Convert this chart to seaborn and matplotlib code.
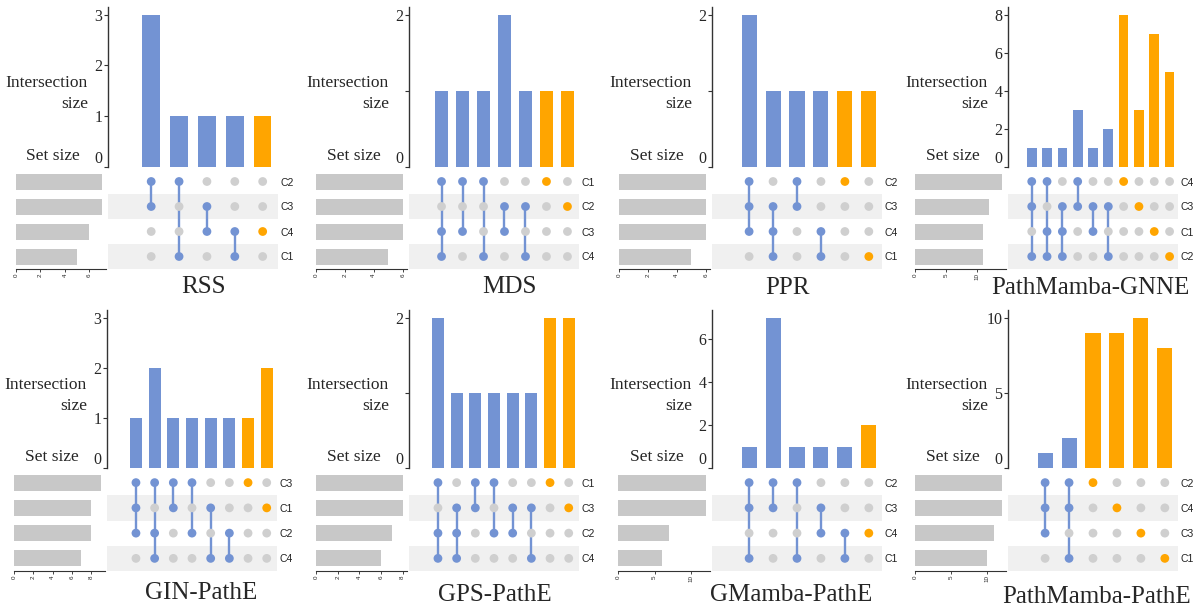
import matplotlib
matplotlib.use('Agg')
import matplotlib.pyplot as plt
import seaborn as sns
import pandas as pd

sns.set_style('white')
plt.rcParams['font.family'] = ['Liberation Sans', 'DejaVu Sans']

# ─────────────────────────────────────────────────────────────
# DATA  (sets listed top → bottom, intersections left → right)
# ─────────────────────────────────────────────────────────────
rss_sets = ['C2', 'C3', 'C4', 'C1']
rss_set_sizes = [7, 7, 6, 5]
rss_combos = ['C2&C3', 'C2&C1', 'C3&C4', 'C4&C1', 'C4']
rss_counts = [3, 1, 1, 1, 1]

mds_sets = ['C1', 'C2', 'C3', 'C4']
mds_set_sizes = [6, 6, 6, 5]
mds_combos = ['C1&C3&C4', 'C1&C3', 'C1&C4', 'C2&C3', 'C2&C4', 'C1', 'C2']
mds_counts = [1, 1, 1, 2, 1, 1, 1]

ppr_sets = ['C2', 'C3', 'C4', 'C1']
ppr_set_sizes = [6, 6, 6, 5]
ppr_combos = ['C2&C3&C4', 'C3&C4&C1', 'C2&C3', 'C4&C1', 'C2', 'C1']
ppr_counts = [2, 1, 1, 1, 1, 1]

gnne_sets = ['C4', 'C3', 'C1', 'C2']
gnne_set_sizes = [14, 12, 11, 11]
gnne_combos = ['C4&C3&C2', 'C4&C1&C2', 'C3&C1&C2', 'C4&C3', 'C3&C1',
               'C3&C2', 'C4', 'C3', 'C1', 'C2']
gnne_counts = [1, 1, 1, 3, 1, 2, 8, 3, 7, 5]

gin_sets = ['C3', 'C1', 'C2', 'C4']
gin_set_sizes = [9, 8, 8, 7]
gin_combos = ['C3&C1&C2', 'C3&C2&C4', 'C3&C1', 'C3&C2', 'C1&C4', 'C2&C4', 'C3', 'C1']
gin_counts = [1, 2, 1, 1, 1, 1, 1, 2]

gps_sets = ['C1', 'C3', 'C2', 'C4']
gps_set_sizes = [8, 8, 7, 6]
gps_combos = ['C1&C2&C4', 'C3&C2&C4', 'C1&C3', 'C1&C2', 'C3&C2', 'C3&C4', 'C1', 'C3']
gps_counts = [2, 1, 1, 1, 1, 1, 2, 2]

gmamba_sets = ['C2', 'C3', 'C4', 'C1']
gmamba_set_sizes = [12, 12, 7, 6]
gmamba_combos = ['C2&C3&C1', 'C2&C3', 'C2&C1', 'C3&C4', 'C4&C1', 'C4']
gmamba_counts = [1, 7, 1, 1, 1, 2]

pmpe_sets = ['C2', 'C4', 'C3', 'C1']
pmpe_set_sizes = [12, 12, 11, 10]
pmpe_combos = ['C2&C4&C3', 'C2&C4&C1', 'C2', 'C4', 'C3', 'C1']
pmpe_counts = [1, 2, 9, 9, 10, 8]

titles = ['RSS', 'MDS', 'PPR', 'PathMamba-GNNE',
          'GIN-PathE', 'GPS-PathE', 'GMamba-PathE', 'PathMamba-PathE']

# axis tops and tick values for the intersection-size axes
int_ymax = [3, 2, 2, 8, 3, 2, 7, 10]
int_ticks = [[0, 1, 2, 3], [0, 1, 2], [0, 1, 2], [0, 2, 4, 6, 8],
             [0, 1, 2, 3], [0, 1, 2], [0, 2, 4, 6], [0, 5, 10]]
int_hidden = [[], [1], [1], [], [], [1], [], []]   # ticks drawn without a label
set_ticks = [[0, 2, 4, 6], [0, 2, 4, 6], [0, 2, 4, 6], [0, 5, 10],
             [0, 2, 4, 6, 8], [0, 2, 4, 6, 8], [0, 5, 10], [0, 5, 10]]

panels = [
    (rss_sets, rss_set_sizes, rss_combos, rss_counts),
    (mds_sets, mds_set_sizes, mds_combos, mds_counts),
    (ppr_sets, ppr_set_sizes, ppr_combos, ppr_counts),
    (gnne_sets, gnne_set_sizes, gnne_combos, gnne_counts),
    (gin_sets, gin_set_sizes, gin_combos, gin_counts),
    (gps_sets, gps_set_sizes, gps_combos, gps_counts),
    (gmamba_sets, gmamba_set_sizes, gmamba_combos, gmamba_counts),
    (pmpe_sets, pmpe_set_sizes, pmpe_combos, pmpe_counts),
]

# ─────────────────────────────────────────────────────────────
# STYLE / LAYOUT (pixel positions on a 1200x611 canvas)
# ─────────────────────────────────────────────────────────────
BLUE = '#7393D3'
ORANGE = '#FFA500'
DOT_OFF = '#CFCFCF'
SET_GREY = '#C8C8C8'
BAND = '#F0F0F0'
SERIF = ['Liberation Serif', 'DejaVu Serif']

W, H = 1200, 611
SPINE_X = [108, 409, 712, 1008, 107, 409, 712, 1008]
SET_LEFT = [16, 316, 619, 915, 14, 316, 618, 915]
BAR_TOP = [7, 310]
BAR_BOT = [167, 468]
MAT_BOT = [269, 571]
MAT_W = 170
TITLE_XY = [(203, 287), (509, 287), (787, 288), (1090, 288),
            (201, 593), (495, 595), (791, 595), (1097, 597)]


def box(left, top, width, height):
    return [left / W, 1 - (top + height) / H, width / W, height / H]


def ftext(x, y, s, **kw):
    fig.text(x / W, 1 - y / H, s, **kw)


fig = plt.figure(figsize=(12, 6.11), dpi=100)

for i, (sets, sizes, combos, counts) in enumerate(panels):
    r = i // 4
    sx = SPINE_X[i]
    n = len(combos)
    xlim = (-1.55, n - 0.45)

    # --- intersection size bars ---
    ax_bar = fig.add_axes(box(sx, BAR_TOP[r], MAT_W, BAR_BOT[r] - BAR_TOP[r]))
    bar_df = pd.DataFrame({'combo': combos, 'count': counts})
    bar_df['kind'] = ['multi' if '&' in k else 'single' for k in combos]
    sns.barplot(data=bar_df, x='combo', y='count', hue='kind', order=combos,
                palette={'multi': BLUE, 'single': ORANGE}, dodge=False,
                width=0.63, saturation=1, linewidth=0, legend=False, ax=ax_bar)
    ax_bar.set_xlim(xlim)
    ax_bar.set_ylim(0, int_ymax[i] * 1.05)
    for side in ['top', 'right', 'bottom']:
        ax_bar.spines[side].set_visible(False)
    ax_bar.spines['left'].set_color('#333333')
    ax_bar.spines['left'].set_linewidth(1.0)
    ax_bar.set_xticks([])
    ax_bar.set_xlabel('')
    ax_bar.set_ylabel('')
    ax_bar.set_yticks(int_ticks[i])
    ax_bar.set_yticklabels(['' if t in int_hidden[i] else str(t) for t in int_ticks[i]],
                           family=SERIF, fontsize=11.5)
    ax_bar.tick_params(axis='y', left=True, length=3, width=0.8, color='#333333', pad=1)
    ax_bar.get_yticklabels()[0].set_verticalalignment('bottom')

    # --- membership matrix ---
    mat_top = BAR_BOT[r] + 2
    ax_m = fig.add_axes(box(sx, mat_top, MAT_W, MAT_BOT[r] - mat_top))
    for row in (1, 3):
        ax_m.axhspan(row - 0.5, row + 0.5, color=BAND, lw=0, zorder=0)
    rows = []
    for j, combo in enumerate(combos):
        members = combo.split('&')
        for k, s in enumerate(sets):
            if s not in members:
                state = 'off'
            elif len(members) == 1:
                state = 'single'
            else:
                state = 'on'
            rows.append((j, k, state))
        if len(members) > 1:
            idx = [sets.index(m) for m in members]
            ax_m.vlines(j, min(idx), max(idx), color=BLUE, lw=1.7, zorder=2)
    grid = pd.DataFrame(rows, columns=['col', 'row', 'state'])
    sns.scatterplot(data=grid, x='col', y='row', hue='state',
                    palette={'off': DOT_OFF, 'on': BLUE, 'single': ORANGE},
                    s=40, linewidth=0, legend=False, ax=ax_m, zorder=3)
    ax_m.set_xlim(xlim)
    ax_m.set_ylim(3.5, -0.5)
    for side in ax_m.spines:
        ax_m.spines[side].set_visible(False)
    ax_m.set_xticks([])
    ax_m.set_xlabel('')
    ax_m.set_ylabel('')
    ax_m.yaxis.tick_right()
    ax_m.set_yticks(range(len(sets)))
    ax_m.set_yticklabels(sets, fontsize=7.5, color='#222222')
    ax_m.tick_params(axis='y', length=0, pad=2)

    # --- set size bars ---
    ax_s = fig.add_axes(box(SET_LEFT[i], mat_top, sx - 2 - SET_LEFT[i], MAT_BOT[r] - mat_top))
    set_df = pd.DataFrame({'set': sets, 'size': sizes})
    sns.barplot(data=set_df, x='size', y='set', order=sets, orient='h',
                color=SET_GREY, saturation=1, width=0.64, linewidth=0, ax=ax_s)
    ax_s.set_xlim(0, max(sizes) * 1.05)
    ax_s.set_ylim(3.5, -0.5)
    for side in ['top', 'right', 'left']:
        ax_s.spines[side].set_visible(False)
    ax_s.spines['bottom'].set_color('#333333')
    ax_s.spines['bottom'].set_linewidth(0.8)
    ax_s.set_yticks([])
    ax_s.set_xlabel('')
    ax_s.set_ylabel('')
    ax_s.set_xticks(set_ticks[i])
    ax_s.set_xticklabels([str(t) for t in set_ticks[i]], rotation=90, fontsize=4.5)
    ax_s.tick_params(axis='x', bottom=True, length=2, width=0.6, pad=1)

    # --- texts ---
    mid = BAR_TOP[r] + 0.54 * (BAR_BOT[r] - BAR_TOP[r])
    ftext(sx - 20, mid, 'Intersection\nsize', ha='right', va='center',
          multialignment='right', family=SERIF, fontsize=12.5, linespacing=1.4)
    ftext(sx - 28, BAR_BOT[r] - 11, 'Set size', ha='right', va='center',
          family=SERIF, fontsize=12.5)
    tx, ty = TITLE_XY[i]
    ftext(tx, ty, titles[i], ha='center', va='center', family=SERIF, fontsize=18)

fig.savefig('out.png', dpi=100)
